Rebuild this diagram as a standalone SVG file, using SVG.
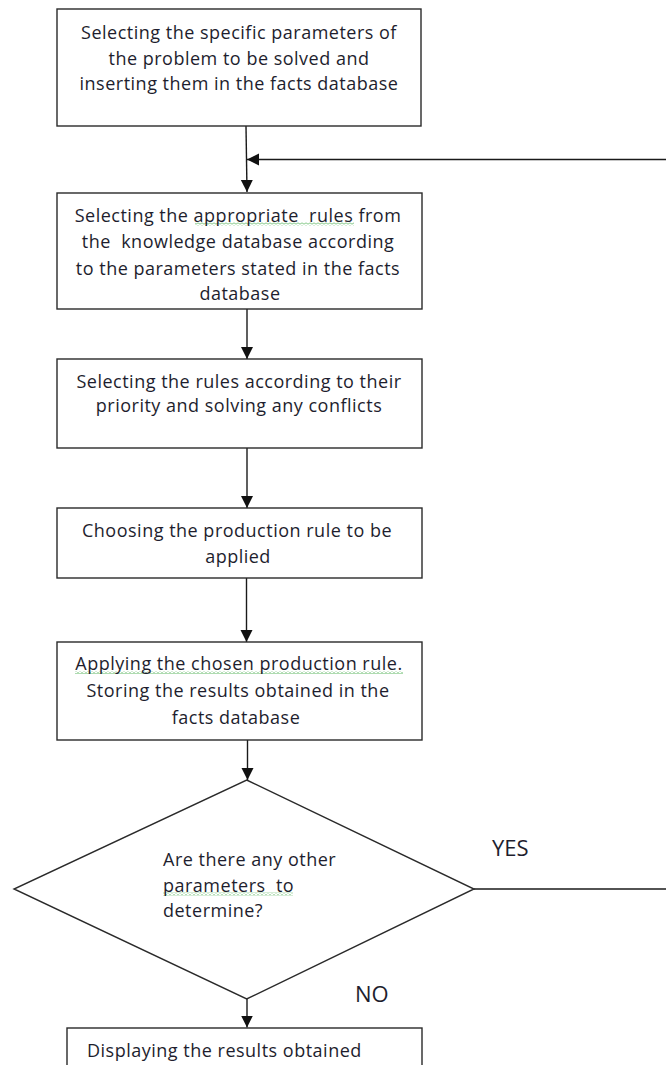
<svg xmlns="http://www.w3.org/2000/svg" width="666" height="1065" viewBox="0 0 666 1065">
  <style>
    .box { fill: #ffffff; stroke: #2a2a2a; stroke-width: 1.4; }
    .conn { fill: none; stroke: #1a1a1a; stroke-width: 1.4; }
    .t { font-family: "Open Sans", "Noto Sans", "DejaVu Sans", sans-serif; font-size: 18px; letter-spacing: 0.5px; fill: #1e1e2e; }
    .c { text-anchor: middle; }
    .lbl { font-family: "Open Sans", "Noto Sans", "DejaVu Sans", sans-serif; font-size: 22px; fill: #1e1e2e; }
    .sq { fill: url(#squig); }
  </style>
  <defs>
    <marker id="arrow" markerUnits="userSpaceOnUse" markerWidth="13" markerHeight="13" refX="12" refY="6" orient="auto">
      <path d="M0,0 L12,6 L0,12 z" fill="#111111"/>
    </marker>
    <pattern id="squig" width="4" height="3" patternUnits="userSpaceOnUse">
      <path d="M0,2.5 L2,0.5 L4,2.5" fill="none" stroke="#4caf50" stroke-width="0.9"/>
    </pattern>
  </defs>
  <rect width="666" height="1065" fill="#ffffff"/>

  <g id="connectors">
    <line class="conn" x1="246" y1="126" x2="247" y2="192" marker-end="url(#arrow)"/>
    <line class="conn" x1="666" y1="159.5" x2="247" y2="159.5" marker-end="url(#arrow)"/>
    <line class="conn" x1="247" y1="309" x2="247" y2="359" marker-end="url(#arrow)"/>
    <line class="conn" x1="247" y1="448" x2="247" y2="508" marker-end="url(#arrow)"/>
    <line class="conn" x1="246.5" y1="578" x2="246.5" y2="642" marker-end="url(#arrow)"/>
    <line class="conn" x1="247.5" y1="740" x2="247.5" y2="780" marker-end="url(#arrow)"/>
    <line class="conn" x1="474" y1="889" x2="666" y2="889"/>
    <line class="conn" x1="247" y1="999" x2="247" y2="1027.5" marker-end="url(#arrow)"/>
  </g>

  <g id="node1">
    <rect class="box" x="57" y="9" width="364" height="117"/>
    <text class="t c" x="239" y="38.5">Selecting the specific parameters of</text>
    <text class="t c" x="239" y="64.5">the problem to be solved and</text>
    <text class="t c" x="239" y="89.5">inserting them in the facts database</text>
  </g>

  <g id="node2">
    <rect class="box" x="57" y="193" width="365" height="116"/>
    <rect class="sq" x="195" y="222.5" width="159" height="3"/>
    <text class="t c" x="238" y="221.5" xml:space="preserve">Selecting the appropriate  rules from</text>
    <text class="t c" x="238" y="248" xml:space="preserve">the  knowledge database according</text>
    <text class="t c" x="238" y="274.5">to the parameters stated in the facts</text>
    <text class="t c" x="240" y="300">database</text>
  </g>

  <g id="node3">
    <rect class="box" x="57" y="359" width="365" height="89"/>
    <text class="t c" x="239" y="387.5">Selecting the rules according to their</text>
    <text class="t c" x="239" y="411.5">priority and solving any conflicts</text>
  </g>

  <g id="node4">
    <rect class="box" x="57" y="508" width="365" height="70"/>
    <text class="t c" x="237" y="536.5">Choosing the production rule to be</text>
    <text class="t c" x="238" y="563">applied</text>
  </g>

  <g id="node5">
    <rect class="box" x="57" y="642" width="365" height="98"/>
    <rect class="sq" x="75" y="671" width="328" height="3"/>
    <text class="t c" x="239" y="670">Applying the chosen production rule.</text>
    <text class="t c" x="238" y="696.5">Storing the results obtained in the</text>
    <text class="t c" x="236" y="723.5">facts database</text>
  </g>

  <g id="decision">
    <polygon class="box" points="246.7,780 474,889 246.7,999 14,889"/>
    <rect class="sq" x="163" y="892.5" width="130" height="3"/>
    <text class="t" x="163" y="865.5">Are there any other</text>
    <text class="t" x="163" y="891.5" xml:space="preserve">parameters  to</text>
    <text class="t" x="163" y="917">determine?</text>
  </g>

  <g id="labels">
    <text class="lbl" x="492" y="856">YES</text>
    <text class="lbl" x="355" y="1002">NO</text>
  </g>

  <g id="node6">
    <rect class="box" x="67" y="1028" width="355" height="60"/>
    <text class="t" x="87" y="1056.5">Displaying the results obtained</text>
  </g>
</svg>
